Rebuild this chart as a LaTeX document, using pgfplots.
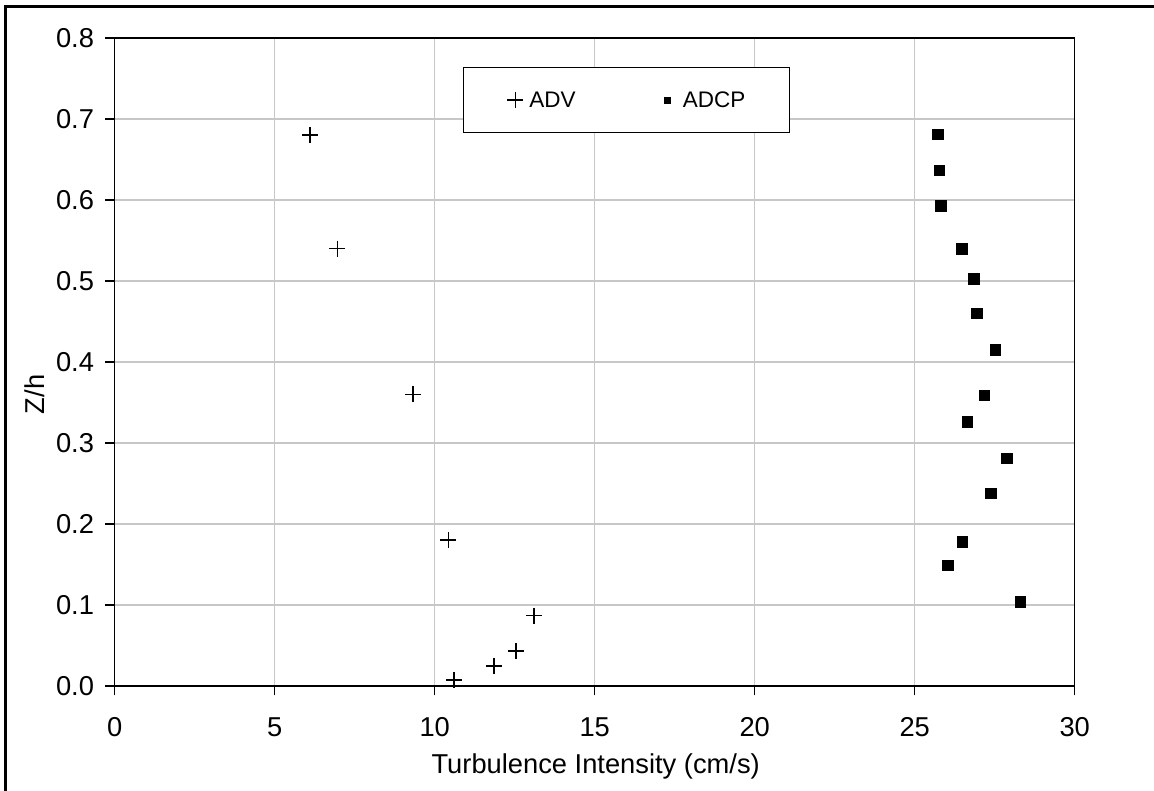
\documentclass[border=0pt]{standalone}
\usepackage{fontspec}
\setmainfont{Liberation Sans}
\usepackage{pgfplots}
\pgfplotsset{compat=1.18}
\begin{document}
\begin{tikzpicture}[x=1bp,y=1bp]
\useasboundingbox (0,0) rectangle (1154,791);
\draw[line width=3bp,black] (5.5,0) -- (5.5,784.5) -- (1160,784.5);
\begin{axis}[
  at={(114.7bp,105bp)}, anchor=south west,
  scale only axis, width=960bp, height=648bp,
  xmin=0, xmax=30, ymin=0, ymax=0.8,
  xtick={0,5,...,30},
  ytick={0,0.1,0.2,0.3,0.4,0.5,0.6,0.7,0.8},
  /pgf/number format/assume math mode=true,
  font=\fontsize{27.3bp}{32bp}\selectfont,
  tick pos=left, tick align=outside,
  major tick length=9.5bp,
  every tick/.style={black, line width=1.4bp},
  axis line style={black, line width=1.5bp},
  grid=major,
  major grid style={color=black!22, line width=1.1bp},
  xticklabel style={anchor=base, yshift=-41bp},
  yticklabel style={anchor=east, inner sep=0pt, xshift=-11bp,
    /pgf/number format/fixed, /pgf/number format/fixed zerofill, /pgf/number format/precision=1},
  xlabel={Turbulence Intensity (cm/s)},
  ylabel={Z/h},
  xlabel style={at={(axis description cs:0.501,-0.1358)}, anchor=base},
  ylabel style={at={(axis description cs:-0.083,0.45)}, anchor=center},
  legend columns=2,
  legend style={at={(axis description cs:0.3628,0.955)}, anchor=north west,
    draw=black, line width=1bp, inner xsep=44bp, inner ysep=24bp,
    nodes={inner sep=0pt}, column sep=0pt,
    /tikz/column 2/.style={column sep=84bp},
    font=\fontsize{22.5bp}{27bp}\selectfont},
]
\addplot[only marks, mark=+, mark size=8bp, mark options={line width=1.7bp, black},
  legend image code/.code={\path[draw=none,fill=none] (-8bp,0bp) -- (14bp,0bp);
    \draw[mark repeat=2,mark phase=2] plot coordinates {(0bp,0bp)(0bp,0bp)(0bp,0bp)};}] coordinates {
(6.10,0.680) (6.96,0.540) (9.33,0.360) (10.43,0.180) (13.11,0.087) (12.54,0.043) (11.86,0.025) (10.61,0.007)
};
\addlegendentry{ADV}
\addplot[only marks, mark=square*, mark size=5.3bp, mark options={black, fill=black},
  legend image code/.code={\path[draw=none,fill=none] (-8bp,0bp) -- (15bp,0bp);
    \draw[mark repeat=2,mark phase=2,mark size=3.2bp] plot coordinates {(0bp,0bp)(0bp,0bp)(0bp,0bp)};}] coordinates {
(25.72,0.681) (25.76,0.637) (25.81,0.593) (26.46,0.540) (26.84,0.503) (26.94,0.460) (27.51,0.415)
(27.17,0.359) (26.64,0.326) (27.87,0.281) (27.37,0.238) (26.49,0.178) (26.04,0.149) (28.30,0.104)
};
\addlegendentry{ADCP}
\end{axis}
\end{tikzpicture}
\end{document}
